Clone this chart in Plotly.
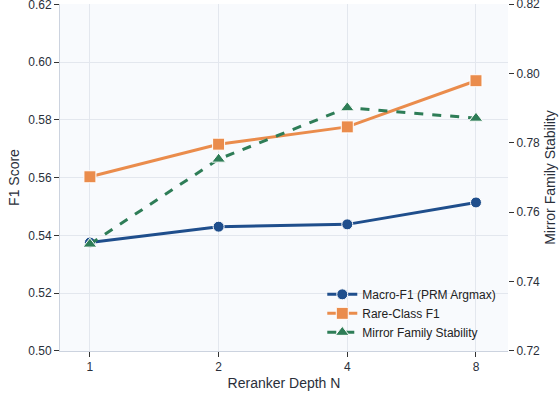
import plotly.graph_objects as go

depth_n = [1, 2, 4, 8]
macro_f1 = [0.5375, 0.5430, 0.5438, 0.5514]
rare_class_f1 = [0.5603, 0.5716, 0.5776, 0.5936]
mirror_stability = [0.7508, 0.7753, 0.7901, 0.7871]

x_tick_labels = ["1", "2", "4", "8"]
left_ticks = [0.50, 0.52, 0.54, 0.56, 0.58, 0.60, 0.62]
right_ticks = [0.72, 0.74, 0.76, 0.78, 0.80, 0.82]

BLUE = "#1f4e8c"
ORANGE = "#ea8c4c"
GREEN = "#2e7d57"
FONT = "Liberation Sans, Arial, sans-serif"

fig = go.Figure()
fig.add_trace(go.Scatter(
    x=depth_n, y=macro_f1, mode="lines+markers", name="Macro-F1 (PRM Argmax)",
    line=dict(color=BLUE, width=3),
    marker=dict(symbol="circle", size=11, color=BLUE, line=dict(color="white", width=1)),
))
fig.add_trace(go.Scatter(
    x=depth_n, y=rare_class_f1, mode="lines+markers", name="Rare-Class F1",
    line=dict(color=ORANGE, width=3),
    marker=dict(symbol="square", size=12, color=ORANGE, line=dict(color="white", width=1)),
))
fig.add_trace(go.Scatter(
    x=depth_n, y=mirror_stability, mode="lines+markers", name="Mirror Family Stability",
    line=dict(color=GREEN, width=3, dash="dash"),
    marker=dict(symbol="triangle-up", size=12, color=GREEN, line=dict(color="white", width=1)),
    yaxis="y2",
))

fig.update_layout(
    width=559, height=398,
    margin=dict(l=60, r=51, t=4, b=47, autoexpand=False),
    paper_bgcolor="white",
    plot_bgcolor="#f8fafd",
    font=dict(family=FONT, size=12, color="#2a2f3a"),
    showlegend=True,
    legend=dict(
        x=0.985, y=0.012, xanchor="right", yanchor="bottom",
        bgcolor="rgba(255,255,255,0)", font=dict(size=12, color="#222"),
        tracegroupgap=0, itemwidth=30,
    ),
    xaxis=dict(
        type="log",
        range=[-0.070, 0.978],
        tickvals=depth_n, ticktext=x_tick_labels,
        title=dict(text="Reranker Depth N", font=dict(size=14), standoff=4),
        showgrid=True, gridcolor="#e3e7ee", gridwidth=1,
        showline=True, linecolor="#ccd3df", linewidth=1,
        ticks="outside", ticklen=5, tickcolor="#333",
        zeroline=False, automargin=False,
    ),
    yaxis=dict(
        range=[0.4999, 0.6202],
        tickvals=left_ticks, tickformat=".2f",
        title=dict(text="F1 Score", font=dict(size=14), standoff=5),
        showgrid=True, gridcolor="#e3e7ee", gridwidth=1,
        showline=True, linecolor="#ccd3df", linewidth=1,
        ticks="outside", ticklen=5, tickcolor="#333",
        ticklabeloverflow="allow",
        zeroline=False, automargin=False,
    ),
    yaxis2=dict(
        range=[0.71999, 0.82002],
        tickvals=right_ticks, tickformat=".2f",
        overlaying="y", side="right",
        title=dict(text="Mirror Family Stability", font=dict(size=14), standoff=6),
        showgrid=False, showline=False,
        ticks="outside", ticklen=5, tickcolor="#333",
        ticklabeloverflow="allow",
        zeroline=False, automargin=False,
    ),
)

fig.write_html(
    "out.html",
    config={"displayModeBar": False},
    post_script="document.body.style.margin='0';",
)
